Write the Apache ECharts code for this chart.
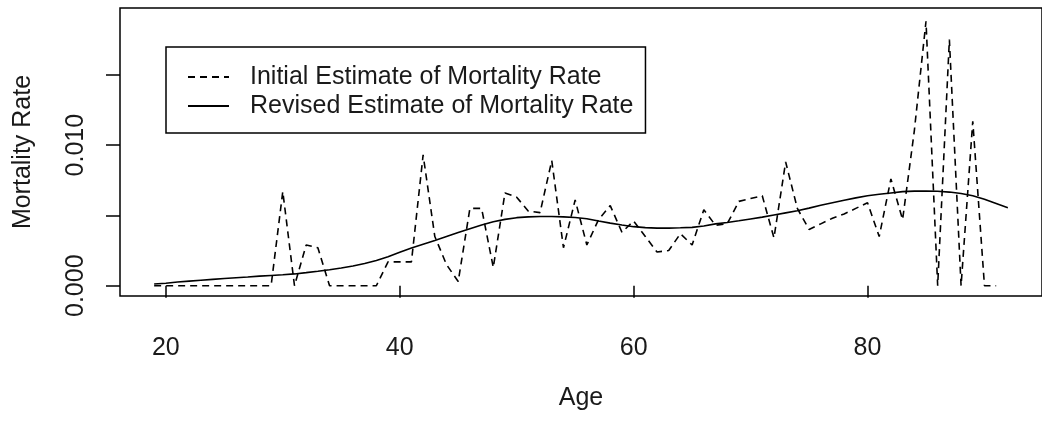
<!DOCTYPE html>
<html>
<head>
<meta charset="utf-8">
<script src="https://cdn.jsdelivr.net/npm/echarts@6/dist/echarts.min.js"></script>
<style>
  html, body { margin: 0; padding: 0; background: #fff; }
  #chart { width: 1042px; height: 421px; }
</style>
</head>
<body>
<div id="chart"></div>
<script>
// ages for the fitted curve (19..92) and the raw estimate (19..91)
const ages = [19, 20, 21, 22, 23, 24, 25, 26, 27, 28, 29, 30, 31, 32, 33, 34, 35, 36, 37, 38,
  39, 40, 41, 42, 43, 44, 45, 46, 47, 48, 49, 50, 51, 52, 53, 54, 55, 56, 57, 58,
  59, 60, 61, 62, 63, 64, 65, 66, 67, 68, 69, 70, 71, 72, 73, 74, 75, 76, 77, 78,
  79, 80, 81, 82, 83, 84, 85, 86, 87, 88, 89, 90, 91, 92]

// initial estimate (dashed), ages 19..91
const initialRate = [0, 0, 0, 0, 0, 0, 0, 0, 0, 0, 0, 0.0067, 0, 0.0029, 0.0027, 0, 0, 0, 0, 0,
  0.0017, 0.0017, 0.0017, 0.0093, 0.0035, 0.0015, 0.0003, 0.0055, 0.0055, 0.0013, 0.0066, 0.0063, 0.0053, 0.0052, 0.0089, 0.0027, 0.0061, 0.0029, 0.0047, 0.0057,
  0.0038, 0.0046, 0.0035, 0.0024, 0.0025, 0.0037, 0.0029, 0.0054, 0.0043, 0.0044, 0.0060, 0.0062, 0.0064, 0.0034, 0.0088, 0.0055, 0.0040, 0.0044, 0.0048, 0.0051,
  0.0055, 0.0059, 0.0035, 0.0076, 0.0047, 0.0110, 0.0188, 0, 0.0175, 0, 0.0117, 0, 0]

// revised estimate (solid), ages 19..92
const revisedRate = [0.00012, 0.00018, 0.00027, 0.00033, 0.00039, 0.00045, 0.00051, 0.00057, 0.00062, 0.00068, 0.00073, 0.00078, 0.00084, 0.00093, 0.00103, 0.00114, 0.00126, 0.00140, 0.00158, 0.00180,
  0.00206, 0.00238, 0.00268, 0.00295, 0.00322, 0.00350, 0.00378, 0.00405, 0.00432, 0.00455, 0.00472, 0.00484, 0.00490, 0.00492, 0.00492, 0.00490, 0.00485, 0.00476, 0.00460, 0.00445,
  0.00432, 0.00420, 0.00413, 0.00410, 0.00410, 0.00412, 0.00415, 0.00425, 0.00440, 0.00450, 0.00462, 0.00475, 0.00488, 0.00503, 0.00518, 0.00533, 0.00552, 0.00572, 0.00590, 0.00608,
  0.00625, 0.00640, 0.00650, 0.00660, 0.00669, 0.00673, 0.00674, 0.00672, 0.00666, 0.00656, 0.00640, 0.00615, 0.00585, 0.00555]

const xTicks = [20, 40, 60, 80]
const yTicks = [0, 0.005, 0.010, 0.015]
const yLabels = [0, 0.010]

const names = ['Initial Estimate of Mortality Rate', 'Revised Estimate of Mortality Rate']

var chartDom = document.getElementById('chart')
var myChart = echarts.init(chartDom, null, { renderer: 'canvas' })

const fontFamily = '"Liberation Sans", Arial, sans-serif'
const textColor = '#1a1a1a'

let option = {
  animation: false,
  backgroundColor: '#fff',
  textStyle: { fontFamily: fontFamily },
  grid: {
    left: 120,
    right: -8, // plot box runs past the right edge in the original
    top: 8,
    bottom: 125,
    show: true,
    borderColor: '#000',
    borderWidth: 1.5,
    backgroundColor: 'transparent'
  },
  legend: {
    orient: 'vertical',
    left: 166,
    top: 47,
    padding: [16, 12, 13, 21],
    itemGap: 1,
    itemWidth: 41,
    itemHeight: 14,
    borderColor: '#000',
    borderWidth: 1.5,
    backgroundColor: '#fff',
    itemStyle: { opacity: 0 }, // line only, no marker in the key
    data: names,
    textStyle: {
      fontSize: 25,
      lineHeight: 28,
      color: textColor,
      fontFamily: fontFamily,
      padding: [0, 0, 0, 16]
    }
  },
  xAxis: {
    type: 'value',
    min: 16.08,
    max: 94.92,
    name: 'Age',
    nameLocation: 'middle',
    nameGap: 90,
    nameTextStyle: { fontSize: 25, color: textColor },
    axisLine: { show: false },
    axisTick: {
      show: true,
      length: 12,
      customValues: xTicks,
      lineStyle: { color: '#000', width: 1.5 }
    },
    axisLabel: {
      customValues: xTicks,
      margin: 40,
      fontSize: 25,
      color: textColor
    },
    splitLine: { show: false }
  },
  yAxis: {
    type: 'value',
    min: -0.00073,
    max: 0.01975,
    name: 'Mortality Rate',
    nameLocation: 'middle',
    nameRotate: 90,
    nameGap: 84,
    nameTextStyle: { fontSize: 25, color: textColor },
    axisLine: { show: false },
    axisTick: {
      show: true,
      length: 14,
      customValues: yTicks,
      lineStyle: { color: '#000', width: 1.5 }
    },
    axisLabel: {
      customValues: yLabels,
      rotate: 90,
      margin: 31,
      fontSize: 25,
      color: textColor,
      formatter: function (v) { return v.toFixed(3) }
    },
    splitLine: { show: false }
  },
  series: [
    {
      name: names[0],
      type: 'line',
      data: initialRate.map((v, i) => [ages[i], v]),
      symbol: 'none',
      lineStyle: { color: '#000', width: 1.6, type: [7, 5] },
      itemStyle: { color: '#000' }
    },
    {
      name: names[1],
      type: 'line',
      data: revisedRate.map((v, i) => [ages[i], v]),
      symbol: 'none',
      lineStyle: { color: '#000', width: 1.6, type: 'solid' },
      itemStyle: { color: '#000' }
    }
  ]
}

option && myChart.setOption(option)
</script>
</body>
</html>
